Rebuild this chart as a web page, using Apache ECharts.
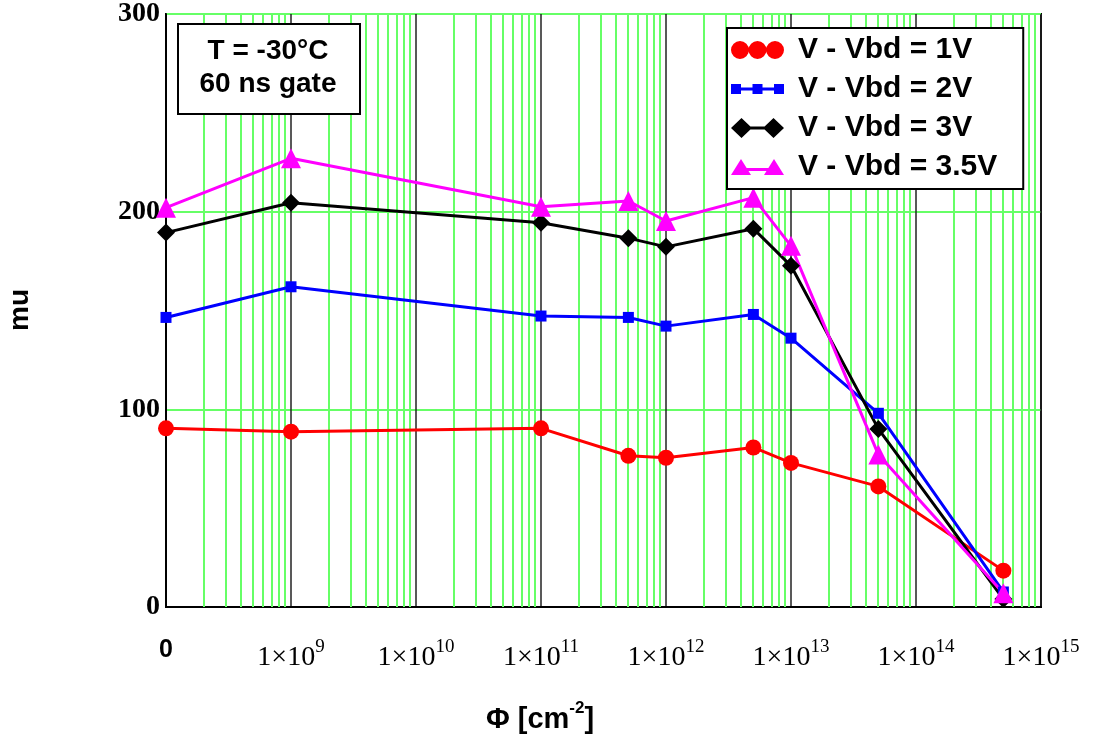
<!DOCTYPE html>
<html>
<head>
<meta charset="utf-8">
<script src="https://cdn.jsdelivr.net/npm/echarts@6/dist/echarts.min.js"></script>
<style>
html,body{margin:0;padding:0;background:#fff;}
#chart{width:1102px;height:738px;}
</style>
</head>
<body>
<div id="chart"></div>
<script>
// fluence [cm-2]; the "0" point is drawn at 1e8
var fluence = [1e8, 1e9, 1e11, 5e11, 1e12, 5e12, 1e13, 5e13, 5e14];
var mu1V = [90.4, 88.7, 90.4, 76.5, 75.5, 80.7, 72.9, 61.0, 18.4];
var mu2V = [146.5, 162, 147.2, 146.5, 142.1, 148, 136, 98, 7.6];
var mu3V = [189.4, 204.5, 194.4, 186.6, 182.2, 191.4, 172.6, 90.1, 4];
var mu35V = [202, 227, 202.5, 205.4, 195.3, 207.1, 182.7, 77.1, 6.9];
var seriesNames = ['V - Vbd = 1V', 'V - Vbd = 2V', 'V - Vbd = 3V', 'V - Vbd = 3.5V'];
var yTicks = [0, 100, 200, 300];

var GREEN = '#66ff66';
var SANS = 'Arial, "Liberation Sans", sans-serif';
var SERIF = '"Times New Roman", "Liberation Serif", serif';

// 2..9 x 10^n gridlines of the log axis
function minorLines() {
	var out = [];
	for (var d = 8; d < 15; d++) {
		for (var m = 2; m < 10; m++) {
			out.push([m * Math.pow(10, d), 0]);
		}
	}
	return out;
}

function pairs(ys) {
	var out = [];
	for (var i = 0; i < fluence.length; i++) out.push([fluence[i], ys[i]]);
	return out;
}

// legend icons, all drawn in a 53x20 box
var corners = 'M0,0 L0,0 M53,20 L53,20 ';
var iconCircles = 'path://' + corners + 'M0,10 A9,9 0 1,1 18,10 A9,9 0 1,1 0,10 Z M17.5,10 A9,9 0 1,1 35.5,10 A9,9 0 1,1 17.5,10 Z M35,10 A9,9 0 1,1 53,10 A9,9 0 1,1 35,10 Z';
var iconSquares = 'path://' + corners + 'M0,5 L10,5 L10,15 L0,15 Z M21.5,5 L31.5,5 L31.5,15 L21.5,15 Z M43,5 L53,5 L53,15 L43,15 Z M5,8.5 L48,8.5 L48,11.5 L5,11.5 Z';
var iconDiamonds = 'path://' + corners + 'M0,10 L10.5,0 L21,10 L10.5,20 Z M32,10 L42.5,0 L53,10 L42.5,20 Z M10.5,8.5 L42.5,8.5 L42.5,11.5 L10.5,11.5 Z';
var iconTriangles = 'path://' + corners + 'M0,18 L10,2 L20,18 Z M33,18 L43,2 L53,18 Z M10,11 L43,11 L43,14 L10,14 Z';

function lineSeries(name, ys, color, symbol, size) {
	return {
		name: name, type: 'line', data: pairs(ys),
		symbol: symbol, symbolSize: size, showSymbol: true,
		lineStyle: {color: color, width: 3},
		itemStyle: {color: color},
		z: 3
	};
}

var chart = echarts.init(document.getElementById('chart'));
chart.setOption({
	animation: false,
	backgroundColor: '#fff',
	grid: {left: 166, right: 61, top: 12, bottom: 131, show: true, borderColor: '#000', borderWidth: 2, backgroundColor: 'transparent'},
	legend: {
		orient: 'vertical', left: 727, top: 28,
		backgroundColor: '#fff', borderColor: '#000', borderWidth: 2,
		padding: [7, 26, 7, 4], itemGap: 9, itemWidth: 53, itemHeight: 20,
		itemStyle: {borderWidth: 0},
		textStyle: {fontFamily: SANS, fontWeight: 'bold', fontSize: 30, color: '#000', padding: [0, 0, 0, 9]},
		data: [
			{name: seriesNames[0], icon: iconCircles},
			{name: seriesNames[1], icon: iconSquares},
			{name: seriesNames[2], icon: iconDiamonds},
			{name: seriesNames[3], icon: iconTriangles}
		],
		z: 10
	},
	xAxis: {
		type: 'log', logBase: 10, min: 1e8, max: 1e15, interval: 1,
		axisLine: {show: true, lineStyle: {color: '#000', width: 2}},
		axisTick: {show: false},
		minorTick: {show: false},
		minorSplitLine: {show: false},
		splitLine: {show: true, lineStyle: {color: '#222', width: 1.5}},
		axisLabel: {
			margin: 31,
			formatter: function(v) {
				var e = Math.round(Math.log(v) / Math.LN10);
				if (e === 8) return '{z|0}';
				return '{a|1×10}{e|' + e + '}';
			},
			rich: {
				z: {fontFamily: SANS, fontWeight: 'bold', fontSize: 25, color: '#000'},
				a: {fontFamily: SERIF, fontSize: 28, color: '#000', verticalAlign: 'bottom', padding: [6, 0, 0, 0]},
				e: {fontFamily: SERIF, fontSize: 19, color: '#000', verticalAlign: 'top'}
			}
		}
	},
	yAxis: {
		type: 'value', min: yTicks[0], max: yTicks[yTicks.length - 1], interval: 100,
		axisLine: {show: true, lineStyle: {color: '#000', width: 2}},
		axisTick: {show: false},
		splitLine: {show: true, lineStyle: {color: GREEN, width: 2}},
		axisLabel: {margin: 6, fontFamily: SERIF, fontWeight: 'bold', fontSize: 28, color: '#000'}
	},
	graphic: [
		{
			type: 'rect', left: 177, top: 23, z: 10,
			shape: {width: 182, height: 90},
			style: {fill: '#fff', stroke: '#000', lineWidth: 2}
		},
		{
			type: 'text', x: 268, y: 68, z: 11,
			style: {text: 'T = -30°C\n60 ns gate', align: 'center', verticalAlign: 'middle',
				font: 'bold 28px ' + SANS, lineHeight: 33, fill: '#000'}
		},
		{
			type: 'text', x: 540, y: 717, z: 11,
			style: {
				text: '{b|Φ [cm}{s|-2}{b|]}', align: 'center', verticalAlign: 'middle',
				rich: {
					b: {fontFamily: SANS, fontWeight: 'bold', fontSize: 29, fill: '#000', verticalAlign: 'bottom', padding: [5, 0, 0, 0]},
					s: {fontFamily: SANS, fontWeight: 'bold', fontSize: 17, fill: '#000', verticalAlign: 'top'}
				}
			}
		},
		{
			type: 'text', x: 20, y: 310, rotation: Math.PI / 2, z: 11,
			style: {text: 'mu', align: 'center', verticalAlign: 'middle', font: 'bold 28px ' + SANS, fill: '#000'}
		}
	],
	series: [
		{
			// light green minor gridlines
			name: 'minor', type: 'custom', data: minorLines(), z: 1, silent: true,
			renderItem: function(params, api) {
				var x = Math.round(api.coord([api.value(0), 0])[0]);
				var cs = params.coordSys;
				return {
					type: 'line',
					shape: {x1: x, y1: cs.y, x2: x, y2: cs.y + cs.height},
					style: {stroke: GREEN, lineWidth: 2}
				};
			}
		},
		lineSeries(seriesNames[0], mu1V, '#ff0000', 'circle', 16),
		lineSeries(seriesNames[1], mu2V, '#0000ff', 'rect', 11),
		lineSeries(seriesNames[2], mu3V, '#000000', 'diamond', 18),
		lineSeries(seriesNames[3], mu35V, '#ff00ff', 'triangle', 20)
	]
});
</script>
</body>
</html>
